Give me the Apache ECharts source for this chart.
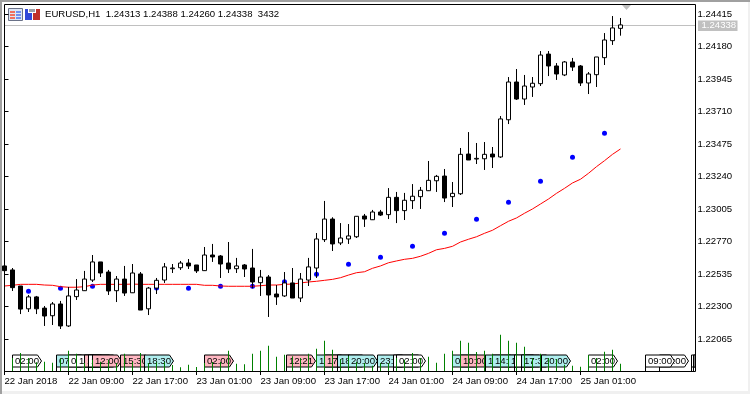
<!DOCTYPE html>
<html><head><meta charset="utf-8">
<style>
html,body{margin:0;padding:0;width:750px;height:394px;overflow:hidden;background:#f0f0f0}
#win{position:absolute;left:2px;top:2px;width:746px;height:389px;background:#fff}
#bl{position:absolute;left:0;top:0;width:2px;height:394px;background:#a0a0a0}
#bt{position:absolute;left:0;top:0;width:750px;height:2px;background:#a0a0a0}
#chart{position:absolute;left:0;top:0;width:750px;height:394px}
</style>
<script src="https://cdn.jsdelivr.net/npm/echarts@6/dist/echarts.min.js"></script>
</head><body><div id="win"></div><div id="bl"></div><div id="bt"></div><div id="chart"></div>
<script>
var symbol = 'EURUSD,H1';
var lastQuote = ['1.24313','1.24388','1.24260','1.24338'];
var lastVolume = '3432';
var bidPrice = 1.24338;
var slotCount = 87;
var barsPerTick = 8;
var tickLabels = ['22 Jan 2018','22 Jan 09:00','22 Jan 17:00','23 Jan 01:00','23 Jan 09:00','23 Jan 17:00','24 Jan 01:00','24 Jan 09:00','24 Jan 17:00','25 Jan 01:00'];
var priceTicks = [1.24415,1.24180,1.23945,1.23710,1.23475,1.23240,1.23005,1.22770,1.22535,1.22300,1.22065];

var open = [1.22595,1.22566,1.22450,1.22285,1.22371,1.22290,1.22235,1.22320,1.22161,1.22373,1.22416,1.22493,1.22624,1.22551,1.22416,1.22500,1.22401,1.22537,1.22285,1.22435,1.22493,1.22575,1.22582,1.22616,1.22602,1.22561,1.22674,1.22667,1.22616,1.22575,1.22602,1.22580,1.22474,1.22515,1.22392,1.22378,1.22472,1.22363,1.22493,1.22580,1.22785,1.22934,1.22761,1.22790,1.22806,1.22956,1.22929,1.22985,1.22966,1.23091,1.22995,1.23067,1.23096,1.23139,1.23211,1.23245,1.23096,1.23117,1.23404,1.23368,1.23370,1.23404,1.23383,1.23652,1.23925,1.23802,1.23889,1.23913,1.24127,1.24041,1.23976,1.24070,1.24041,1.23918,1.23978,1.24101,1.24224,1.24313];
var high = [1.22595,1.22580,1.22450,1.22385,1.22378,1.22305,1.22334,1.22342,1.22443,1.22500,1.22559,1.22674,1.22624,1.22566,1.22522,1.22595,1.22609,1.22551,1.22443,1.22508,1.22616,1.22609,1.22631,1.22645,1.22602,1.22732,1.22754,1.22674,1.22768,1.22653,1.22609,1.22718,1.22566,1.22529,1.22457,1.22551,1.22580,1.22544,1.22653,1.22833,1.23065,1.22947,1.22905,1.22898,1.22956,1.22971,1.23000,1.23000,1.23158,1.23130,1.23123,1.23187,1.23166,1.23354,1.23253,1.23296,1.23202,1.23448,1.23563,1.23484,1.23491,1.23455,1.23679,1.23961,1.24019,1.23976,1.23961,1.24149,1.24149,1.24062,1.24077,1.24099,1.24048,1.23997,1.24106,1.24279,1.24402,1.24388];
var low = [1.22559,1.22414,1.22247,1.22262,1.22247,1.22161,1.22168,1.22139,1.22154,1.22349,1.22414,1.22479,1.22515,1.22385,1.22334,1.22378,1.22399,1.22276,1.22240,1.22392,1.22472,1.22544,1.22566,1.22573,1.22544,1.22559,1.22624,1.22508,1.22544,1.22544,1.22515,1.22433,1.22378,1.22226,1.22313,1.22371,1.22363,1.22334,1.22450,1.22508,1.22768,1.22703,1.22746,1.22754,1.22797,1.22877,1.22927,1.22956,1.22934,1.22905,1.22927,1.23007,1.23007,1.23137,1.23130,1.23057,1.23021,1.23108,1.23361,1.23332,1.23289,1.23303,1.23376,1.23621,1.23795,1.23759,1.23817,1.23896,1.23968,1.23940,1.23968,1.24005,1.23896,1.23838,1.23889,1.24048,1.24193,1.24260];
var close = [1.22561,1.22438,1.22283,1.22371,1.22285,1.22233,1.22320,1.22161,1.22378,1.22421,1.22500,1.22624,1.22544,1.22414,1.22500,1.22399,1.22544,1.22276,1.22435,1.22491,1.22588,1.22580,1.22616,1.22595,1.22559,1.22674,1.22660,1.22609,1.22573,1.22595,1.22573,1.22479,1.22515,1.22385,1.22371,1.22472,1.22363,1.22500,1.22588,1.22790,1.22934,1.22754,1.22797,1.22812,1.22954,1.22934,1.22985,1.22963,1.23091,1.22995,1.23070,1.23099,1.23142,1.23214,1.23243,1.23086,1.23120,1.23402,1.23361,1.23373,1.23402,1.23383,1.23658,1.23925,1.23802,1.23896,1.23916,1.24120,1.24041,1.23983,1.24070,1.24033,1.23918,1.23983,1.24106,1.24229,1.24316,1.24338];
var volume = [2200,6110,8460,6110,4070,4390,3920,5950,9560,8150,3760,5330,4390,5330,3760,8150,4390,8460,3760,4070,4230,2820,1720,2980,1880,3760,4230,4230,9560,3450,3130,8150,9560,11910,6740,7680,6890,6110,8150,10500,14260,10030,5640,6890,4230,3760,2510,3760,3760,6110,5330,8460,6110,6740,3920,8150,9560,14260,13320,8930,9560,8150,17080,14260,13320,11440,6110,8150,6110,5640,2980,2510,2040,7520,6110,9090,10030,3432];
var maLine = [1.22450,1.22455,1.22462,1.22462,1.22462,1.22457,1.22455,1.22445,1.22441,1.22441,1.22445,1.22457,1.22462,1.22462,1.22462,1.22462,1.22464,1.22462,1.22462,1.22462,1.22462,1.22462,1.22462,1.22462,1.22462,1.22455,1.22455,1.22450,1.22448,1.22448,1.22448,1.22448,1.22452,1.22457,1.22457,1.22462,1.22464,1.22472,1.22479,1.22484,1.22491,1.22498,1.22510,1.22529,1.22546,1.22553,1.22578,1.22595,1.22618,1.22631,1.22643,1.22650,1.22665,1.22686,1.22712,1.22722,1.22737,1.22768,1.22788,1.22806,1.22831,1.22853,1.22886,1.22918,1.22942,1.22976,1.23007,1.23043,1.23079,1.23120,1.23156,1.23195,1.23222,1.23265,1.23313,1.23356,1.23402,1.23441];
var dotBars = [3,7,11,15,19,23,27,31,35,39,43,47,51,55,59,63,67,71,75];
var dotValues = [1.22412,1.22433,1.22448,1.22443,1.22435,1.22433,1.22448,1.22448,1.22481,1.22535,1.22607,1.22657,1.22737,1.22831,1.22932,1.23055,1.23207,1.23381,1.23554];

var tagBars = [0.94,6.44,7.94,8.94,9.94,10.4,10.94,14.44,17.44,24.94,35.15,38.9,39.9,41.5,42.94,46.5,48.5,48.94,55.97,56.94,60,60.94,62.94,63.7,64.5,67,72.94,81.8,80.06,85.8,86.1];
var tagTexts = ['02:00','07:00','08:00','10:00','11:00','11:30','12:00','15:30','18:30','02:00','12:21','15:00','17:00','18:30','20:00','23:30','01:30','02:00','09:00','10:00','12:00','14:00','16:00','','17:30','20:00','02:00','12:00','09:00','',''];
var tagKinds = ['w','c','w','w','p','w','p','p','c','p','p','c','p','c','c','c','w','w','c','p','c','c','c','w','c','c','w','w','w','w','w'];

var FONT = '"Liberation Sans", Arial, sans-serif';
var FS = 9.6;
var GREY = '#c0c0c0';
var tagFill = {w:'#ffffff', c:'#afeeee', p:'#ffb6c1'};
var categories = [];
for (var s = 0; s < slotCount; s++) categories.push(String(s));
var isTick = function (idx) { return idx % barsPerTick === 0 && idx / barsPerTick < tickLabels.length; };
var ohlc = open.map(function (o, i) { return [o, close[i], low[i], high[i]]; });
var dots = dotBars.map(function (b, i) { return [b, dotValues[i]]; });
var tagRows = tagBars.map(function (b, i) { return [b, i]; });

var chart = echarts.init(document.getElementById('chart'), null, {renderer:'canvas', width:750, height:394});
chart.setOption({
  animation:false,
  backgroundColor:'transparent',
  textStyle:{fontFamily:FONT, fontSize:FS},
  title:{
    text:symbol + '  ' + lastQuote.join(' ') + '  ' + lastVolume,
    left:45, top:9, padding:0,
    textStyle:{fontFamily:FONT, fontSize:FS, fontWeight:'normal', color:'#000'}
  },
  grid:{left:4.5, top:4, width:8*(slotCount-1), height:367, containLabel:false},
  xAxis:[
    {type:'category', data:categories, boundaryGap:false, axisLine:{show:false},
     axisTick:{show:true, length:4, interval:function(i){return isTick(i);}, lineStyle:{color:'#000'}},
     axisLabel:{interval:function(i){return isTick(i);}, hideOverlap:false, align:'left', margin:5, color:'#000',
       fontFamily:FONT, fontSize:FS, showMinLabel:true,
       formatter:function(v,i){return tickLabels[i/barsPerTick]||'';}},
     splitLine:{show:false}},
    {type:'value', min:0, max:slotCount-1, show:false}
  ],
  yAxis:[
    {type:'value', position:'right', offset:3, min:1.218353, max:1.244891, scale:true,
     axisLine:{show:false},
     axisTick:{show:true, length:4, customValues:priceTicks, lineStyle:{color:'#000'}},
     axisLabel:{customValues:priceTicks, margin:2, color:'#000', fontFamily:FONT, fontSize:FS,
       formatter:function(v){return v.toFixed(5);}},
     splitLine:{show:false}},
    {type:'value', min:0, max:172490, show:false}
  ],
  series:[
    {type:'custom', name:'bid', xAxisIndex:1, yAxisIndex:0, z:1, silent:true, data:[[0,bidPrice]], clip:false,
     renderItem:function(p,api){
       var y=Math.round(api.coord([0,api.value(1)])[1])+0.5;
       return {type:'group',children:[
         {type:'line',shape:{x1:5,y1:y,x2:695,y2:y},style:{stroke:GREY,lineWidth:1}},
         {type:'rect',shape:{x:698,y:y-5,width:39.5,height:10.5},style:{fill:GREY}},
         {type:'text',style:{x:701.5,y:y,text:bidPrice.toFixed(5),fill:'#fff',font:FS+'px '+FONT,verticalAlign:'middle',align:'left'}}
       ]};
     }},
    {type:'custom', name:'tags', xAxisIndex:1, yAxisIndex:0, z:2, silent:true, data:tagRows, clip:false,
     encode:{x:0},
     renderItem:function(p,api){
       var i=api.value(1);
       var base=p.coordSys.y+p.coordSys.height;
       var x=Math.round(p.coordSys.x+api.value(0)*p.coordSys.width/(slotCount-1))+0.5;
       var t=base-16.5+0.5, b=base-4.5+0.5, r=x+25, tip=x+29, lim=695;
       var pts = tip<=lim
         ? [[x,base],[x,t],[r,t],[tip,(t+b)/2],[r,b],[x,b]]
         : [[x,base],[x,t],[lim,t],[lim,b],[x,b]];
       var kids=[{type:'polygon',shape:{points:pts},style:{fill:tagFill[tagKinds[i]],stroke:'#000',lineWidth:1}}];
       if(tagTexts[i]) kids.push({type:'text',style:{x:x+2.5,y:(t+b)/2+0.5,text:tagTexts[i],fill:'#000',font:FS+'px '+FONT,align:'left',verticalAlign:'middle'}});
       return {type:'group',children:kids};
     }},
    {type:'bar', name:'volume', xAxisIndex:0, yAxisIndex:1, data:volume, barWidth:1, z:3, silent:true,
     itemStyle:{color:'#008000'}},
    {type:'scatter', name:'dots', xAxisIndex:0, yAxisIndex:0, data:dots, symbolSize:5, z:4, silent:true,
     itemStyle:{color:'#0000ff', opacity:1}},
    {type:'line', name:'ma', xAxisIndex:0, yAxisIndex:0, data:maLine, showSymbol:false, symbol:'none', z:5, silent:true,
     lineStyle:{color:'#ff0000', width:1}},
    {type:'candlestick', name:'price', xAxisIndex:0, yAxisIndex:0, data:ohlc, barWidth:4, z:6, silent:true,
     itemStyle:{color:'#ffffff',color0:'#000000',borderColor:'#000000',borderColor0:'#000000',borderWidth:1}}
  ],
  graphic:[
    {type:'rect',silent:true,z:100,shape:{x:4.5,y:4.5,width:691,height:367},style:{fill:'transparent',stroke:'#000',lineWidth:1}},
    {type:'polygon',silent:true,z:100,shape:{points:[[622,5],[631,5],[626.5,10]]},style:{fill:GREY}},
    {type:'group',silent:true,z:100,children:[
      {type:'rect',shape:{x:8.5,y:8.5,width:14,height:12},style:{fill:'#dde6f6',stroke:'#6a7288',lineWidth:1}},
      {type:'rect',shape:{x:10,y:11,width:5,height:2},style:{fill:'#f07060'}},
      {type:'rect',shape:{x:10,y:14,width:5,height:2},style:{fill:'#f07060'}},
      {type:'rect',shape:{x:10,y:17,width:5,height:2},style:{fill:'#f07060'}},
      {type:'rect',shape:{x:16,y:11,width:5,height:2},style:{fill:'#7090f0'}},
      {type:'rect',shape:{x:16,y:14,width:5,height:2},style:{fill:'#7090f0'}},
      {type:'rect',shape:{x:16,y:17,width:5,height:2},style:{fill:'#7090f0'}},
      {type:'polygon',shape:{points:[[25,9],[28,9],[28,13],[32,13],[32,20],[25,20]]},style:{fill:'#3048d8'}},
      {type:'polygon',shape:{points:[[36,9],[40,9],[40,20],[33,20],[33,13],[36,13]]},style:{fill:'#c03028'}},
      {type:'rect',shape:{x:29,y:9,width:6,height:3},style:{fill:'#9aa0a8'}}
    ]}
  ]
});
</script></body></html>
